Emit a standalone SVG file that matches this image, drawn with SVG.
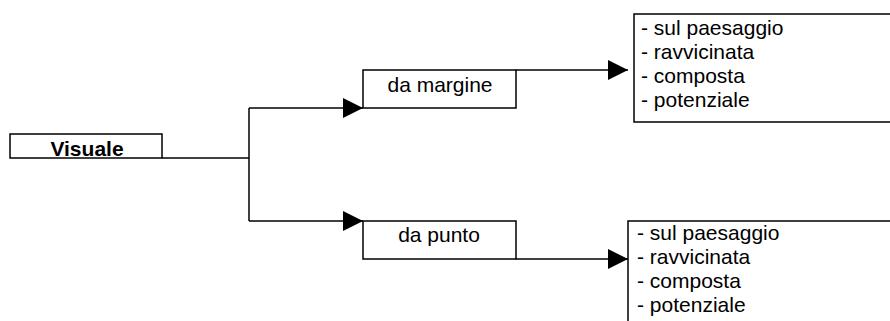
<svg xmlns="http://www.w3.org/2000/svg" width="890" height="321" viewBox="0 0 890 321">
<defs>
<marker id="ah" markerUnits="userSpaceOnUse" markerWidth="20" markerHeight="20" refX="20" refY="10" orient="auto" viewBox="0 0 20 20">
<path d="M0,0 L20,10 L0,20 Z" fill="#000"/>
</marker>
<style>
.box{fill:#fff;stroke:#000;stroke-width:1.5}
.ln{fill:none;stroke:#000;stroke-width:1.5}
text{font-family:"Liberation Sans",Arial,sans-serif;fill:#000;font-size:21px}
.b{font-weight:bold}
.c{text-anchor:middle}
</style>
</defs>
<g id="connectors">
<polyline class="ln" points="162,158 249,158"/>
<line class="ln" x1="249" y1="108" x2="249" y2="221"/>
<polyline class="ln" points="249,108 363,108" marker-end="url(#ah)"/>
<polyline class="ln" points="249,221 363,221" marker-end="url(#ah)"/>
<polyline class="ln" points="516,70 628,70" marker-end="url(#ah)"/>
<polyline class="ln" points="516,259 628,259" marker-end="url(#ah)"/>
</g>
<g id="visuale">
<rect class="box" x="10" y="134" width="152" height="24"/>
<text class="b c" x="87" y="156">Visuale</text>
</g>
<g id="margine">
<rect class="box" x="363" y="70" width="153" height="38"/>
<text class="c" x="440" y="92">da margine</text>
</g>
<g id="punto">
<rect class="box" x="363" y="221" width="153" height="38"/>
<text class="c" x="439" y="242">da punto</text>
</g>
<g id="list1">
<rect class="box" x="634" y="14" width="270" height="108"/>
<text x="641" y="35">- sul paesaggio</text>
<text x="641" y="59">- ravvicinata</text>
<text x="641" y="83">- composta</text>
<text x="641" y="107">- potenziale</text>
</g>
<g id="list2">
<rect class="box" x="628" y="221" width="280" height="110"/>
<text x="637" y="240">- sul paesaggio</text>
<text x="637" y="264">- ravvicinata</text>
<text x="637" y="288">- composta</text>
<text x="637" y="312">- potenziale</text>
</g>
</svg>
